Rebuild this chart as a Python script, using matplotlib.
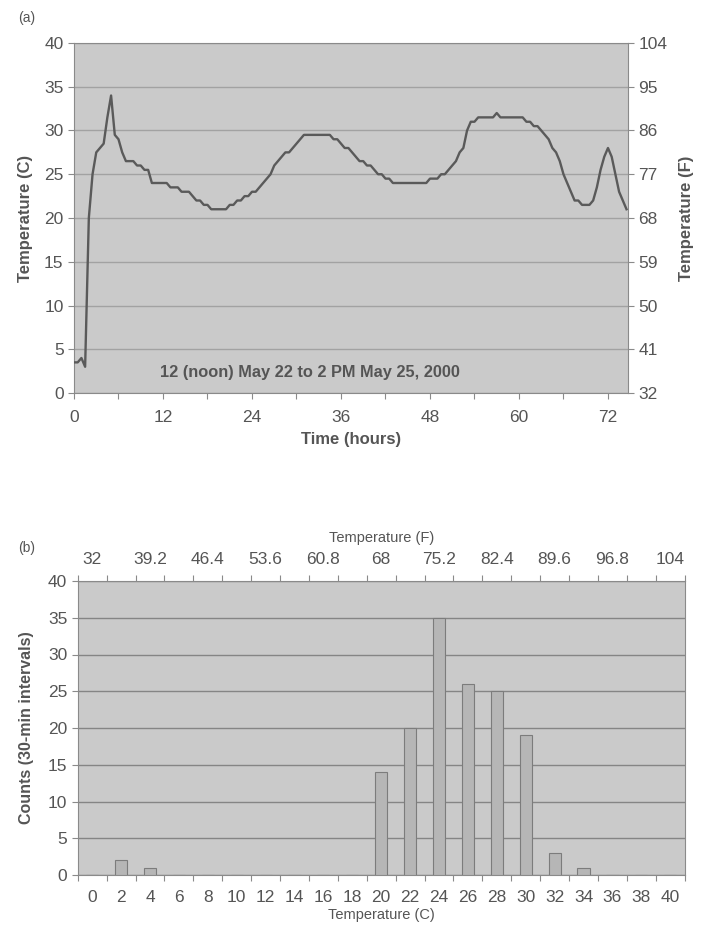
import numpy as np
import matplotlib
matplotlib.use("Agg")
import matplotlib.pyplot as plt
from matplotlib.ticker import MultipleLocator, FixedLocator

plt.rcParams['font.family'] = ['Liberation Sans', 'DejaVu Sans']

# ---------------- data ----------------
# (a) temperature readings every 30 minutes, starting 12 noon May 22
temps_c = [
    3.5, 3.5, 4.0, 3.0, 20.0, 25.0, 27.5, 28.0, 28.5, 31.5,
    34.0, 29.5, 29.0, 27.5, 26.5, 26.5, 26.5, 26.0, 26.0, 25.5,
    25.5, 24.0, 24.0, 24.0, 24.0, 24.0, 23.5, 23.5, 23.5, 23.0,
    23.0, 23.0, 22.5, 22.0, 22.0, 21.5, 21.5, 21.0, 21.0, 21.0,
    21.0, 21.0, 21.5, 21.5, 22.0, 22.0, 22.5, 22.5, 23.0, 23.0,
    23.5, 24.0, 24.5, 25.0, 26.0, 26.5, 27.0, 27.5, 27.5, 28.0,
    28.5, 29.0, 29.5, 29.5, 29.5, 29.5, 29.5, 29.5, 29.5, 29.5,
    29.0, 29.0, 28.5, 28.0, 28.0, 27.5, 27.0, 26.5, 26.5, 26.0,
    26.0, 25.5, 25.0, 25.0, 24.5, 24.5, 24.0, 24.0, 24.0, 24.0,
    24.0, 24.0, 24.0, 24.0, 24.0, 24.0, 24.5, 24.5, 24.5, 25.0,
    25.0, 25.5, 26.0, 26.5, 27.5, 28.0, 30.0, 31.0, 31.0, 31.5,
    31.5, 31.5, 31.5, 31.5, 32.0, 31.5, 31.5, 31.5, 31.5, 31.5,
    31.5, 31.5, 31.0, 31.0, 30.5, 30.5, 30.0, 29.5, 29.0, 28.0,
    27.5, 26.5, 25.0, 24.0, 23.0, 22.0, 22.0, 21.5, 21.5, 21.5,
    22.0, 23.5, 25.5, 27.0, 28.0, 27.0, 25.0, 23.0, 22.0, 21.0,
]
interval_hours = 0.5
time_ticks = [0, 12, 24, 36, 48, 60, 72]
f_ticks_a = [32, 41, 50, 59, 68, 77, 86, 95, 104]
annotation = "12 (noon) May 22 to 2 PM May 25, 2000"

# (b) histogram of temperatures
bin_labels_c = [str(v) for v in range(0, 41, 2)]
counts = [0, 2, 1, 0, 0, 0, 0, 0, 0, 0, 14, 20, 35, 26, 25, 19, 3, 1, 0, 0, 0]
f_labels = ["32", "39.2", "46.4", "53.6", "60.8", "68", "75.2",
            "82.4", "89.6", "96.8", "104"]

# ---------------- style ----------------
BG = "#cacaca"
GRID_A = "#a2a2a2"
GRID_B = "#858585"
TXT = "#555555"
LINE = "#5a5a5a"
SPINE = "#8a8a8a"

fig = plt.figure(figsize=(7.01, 9.27), dpi=100)

# ---------------- (a) ----------------
ax = fig.add_axes([74/701, 1-393/927, (628-74)/701, (393-43)/927])
hours = np.arange(len(temps_c)) * interval_hours
ax.set_facecolor(BG)
ax.plot(hours, temps_c, color=LINE, lw=1.7, zorder=3, solid_joinstyle='round')
ax.set_xlim(0, 74.7)
ax.set_ylim(0, 40)
ax.yaxis.set_major_locator(MultipleLocator(5))
ax.xaxis.set_major_locator(FixedLocator(time_ticks))
ax.xaxis.set_minor_locator(MultipleLocator(6))
ax.grid(axis='y', color=GRID_A, lw=1.0, zorder=1)
ax.set_axisbelow(True)
for s in ax.spines.values():
    s.set_color(SPINE)
    s.set_linewidth(0.8)
ax.tick_params(axis='both', colors=SPINE, labelcolor=TXT, labelsize=12.5,
               direction='out', length=4, width=0.8)
ax.tick_params(axis='x', which='minor', colors=SPINE, direction='out', length=4, width=0.8)
ax.tick_params(axis='x', pad=8)
ax.set_ylabel("Temperature (C)", fontsize=12, color=TXT, fontweight='bold', labelpad=8)
ax.set_xlabel("Time (hours)", fontsize=12, color=TXT, fontweight='bold', labelpad=5)
ax.text(11.6, 2.4, annotation, fontsize=11.8, color=TXT, fontweight='bold',
        ha='left', va='center', zorder=4)

axr = ax.twinx()
axr.set_ylim(32, 104)
axr.yaxis.set_major_locator(FixedLocator(f_ticks_a))
axr.tick_params(axis='y', colors=SPINE, labelcolor=TXT, labelsize=12.5,
                direction='out', length=4, width=0.8)
for s in axr.spines.values():
    s.set_visible(False)
axr.set_ylabel("Temperature (F)", fontsize=12, color=TXT, fontweight='bold', labelpad=8)

fig.text(18/701, 1-18/927, "(a)", fontsize=10, color=TXT, ha='left', va='center')

# ---------------- (b) ----------------
bx = fig.add_axes([77.7/701, 1-875/927, 607/701, (875-581)/927])
bx.set_facecolor(BG)
pos = np.arange(len(bin_labels_c))
bx.bar(pos, counts, width=0.42, color="#b6b6b6", edgecolor="#7c7c7c",
       linewidth=0.8, zorder=3)
bx.set_xlim(-0.5, len(bin_labels_c) - 0.5)
bx.set_ylim(0, 40)
bx.yaxis.set_major_locator(MultipleLocator(5))
bx.grid(axis='y', color=GRID_B, lw=1.0, zorder=1)
bx.set_axisbelow(True)
bx.set_xticks(pos)
bx.set_xticklabels(bin_labels_c)
bx.set_xticks(np.arange(-0.5, len(bin_labels_c)), minor=True)
bx.tick_params(axis='x', which='major', length=0, pad=11, labelsize=12.5, labelcolor=TXT)
bx.tick_params(axis='x', which='minor', length=4, direction='out', colors=SPINE, width=0.8)
bx.tick_params(axis='y', colors=SPINE, labelcolor=TXT, labelsize=12.5,
               direction='out', length=4, width=0.8)
for s in bx.spines.values():
    s.set_color(SPINE)
    s.set_linewidth(0.8)
bx.set_ylabel("Counts (30-min intervals)", fontsize=11.5, color=TXT,
              fontweight='bold', labelpad=10)
bx.set_xlabel("Temperature (C)", fontsize=10.5, color=TXT, labelpad=2)

bt = bx.twiny()
bt.set_xlim(bx.get_xlim())
bt.set_xticks(pos[::2])
bt.set_xticklabels(f_labels)
bt.set_xticks(np.arange(-0.5, len(bin_labels_c)), minor=True)
bt.tick_params(axis='x', which='major', length=0, pad=10, labelsize=12.5, labelcolor=TXT)
bt.tick_params(axis='x', which='minor', length=4, direction='out', colors=SPINE, width=0.8)
for s in bt.spines.values():
    s.set_visible(False)
bt.set_xlabel("Temperature (F)", fontsize=10.5, color=TXT, labelpad=7)

fig.text(18/701, 1-548/927, "(b)", fontsize=10, color=TXT, ha='left', va='center')

fig.savefig("out.png", dpi=100, facecolor="white")
